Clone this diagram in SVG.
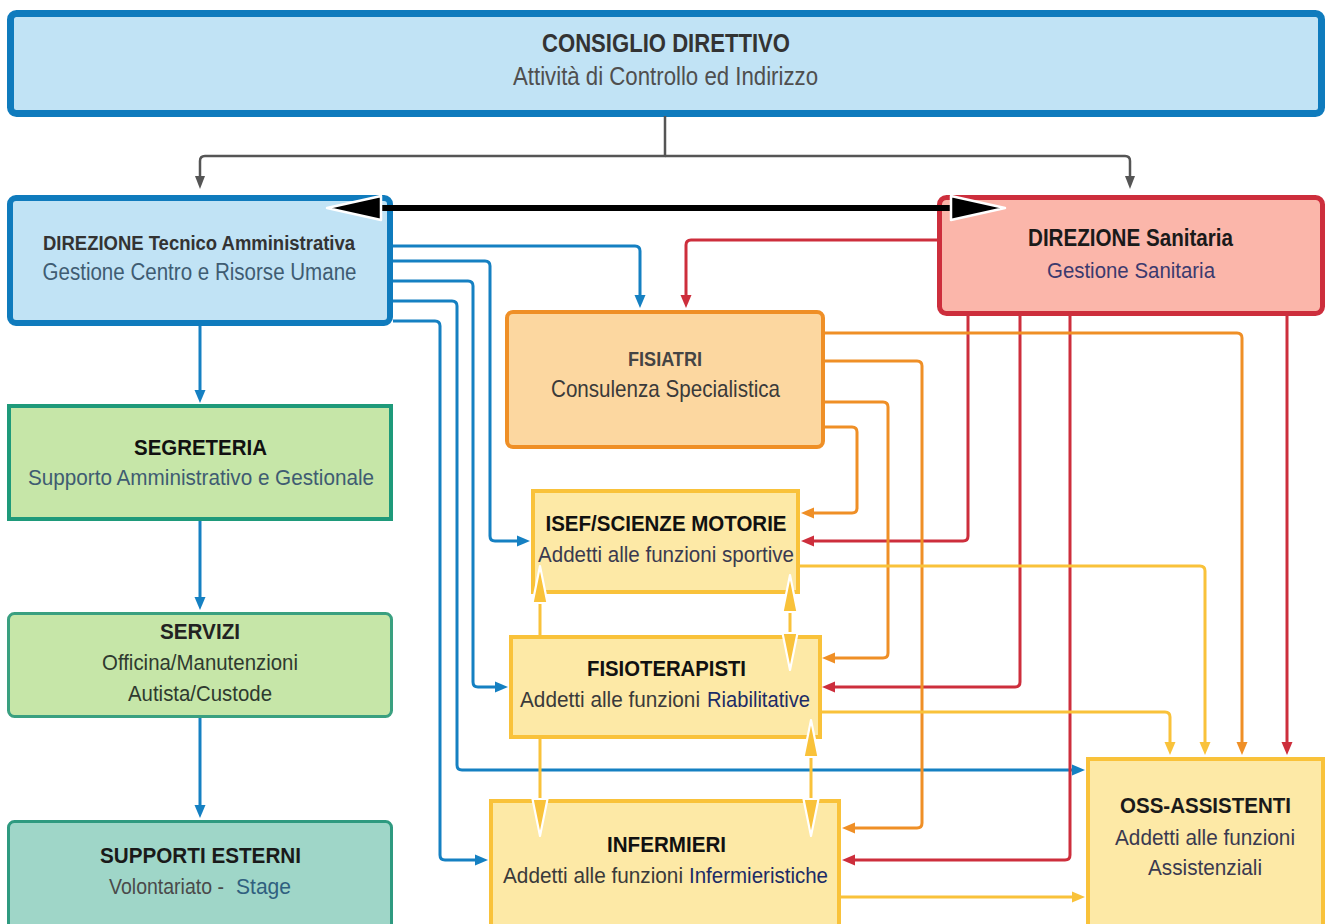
<svg xmlns="http://www.w3.org/2000/svg" xmlns:xlink="http://www.w3.org/1999/xlink" width="1332" height="924" viewBox="0 0 1332 924">
<style>
text{font-family:"Liberation Sans",Arial,sans-serif;text-anchor:middle}
text.s{text-anchor:start}
.b{font-weight:bold}
.c{fill:none;stroke-width:3;stroke-linejoin:round}
.blue{stroke:#1580c2}
.red{stroke:#cd2e3c}
.org{stroke:#ef8f26}
.yel{stroke:#f9c23a}
.gray{stroke:#555;stroke-width:2.5}
.yb{fill:#fde9a6;stroke:#f9c23a;stroke-width:4}
</style>
<defs>
<marker id="mb" markerUnits="userSpaceOnUse" markerWidth="14" markerHeight="12" viewBox="0 -6 14 12" refX="1" refY="0" orient="auto"><path d="M0,-5.5 L13,0 L0,5.5 Z" fill="#1580c2"/></marker>
<marker id="mr" markerUnits="userSpaceOnUse" markerWidth="14" markerHeight="12" viewBox="0 -6 14 12" refX="1" refY="0" orient="auto"><path d="M0,-5.5 L13,0 L0,5.5 Z" fill="#cd2e3c"/></marker>
<marker id="mo" markerUnits="userSpaceOnUse" markerWidth="14" markerHeight="12" viewBox="0 -6 14 12" refX="1" refY="0" orient="auto"><path d="M0,-5.5 L13,0 L0,5.5 Z" fill="#ef8f26"/></marker>
<marker id="my" markerUnits="userSpaceOnUse" markerWidth="14" markerHeight="12" viewBox="0 -6 14 12" refX="1" refY="0" orient="auto"><path d="M0,-5.5 L13,0 L0,5.5 Z" fill="#f9c23a"/></marker>
<marker id="mg" markerUnits="userSpaceOnUse" markerWidth="14" markerHeight="12" viewBox="0 -6 14 12" refX="1" refY="0" orient="auto"><path d="M0,-5 L13,0 L0,5 Z" fill="#555"/></marker>
<path id="yh" d="M0,0 L-7.5,37 L7.5,37 Z" fill="#f9c23a" stroke="#fff" stroke-width="2.2" stroke-linejoin="round"/>
</defs>

<g id="consiglio">
<rect x="10.5" y="13.5" width="1311" height="100" rx="6" fill="#c1e3f5" stroke="#0f7bbd" stroke-width="7"/>
<text class="b" x="666" y="52" font-size="25" fill="#333" textLength="248" lengthAdjust="spacingAndGlyphs">CONSIGLIO DIRETTIVO</text>
<text x="665.5" y="85" font-size="25" fill="#4f4f4f" textLength="305" lengthAdjust="spacingAndGlyphs">Attività di Controllo ed Indirizzo</text>
</g>

<g id="dir-tecnico">
<rect x="10" y="198" width="380" height="125" rx="6" fill="#c1e3f5" stroke="#0f7bbd" stroke-width="6"/>
<text class="b" x="199" y="250" font-size="20" fill="#333" textLength="312" lengthAdjust="spacingAndGlyphs">DIREZIONE Tecnico Amministrativa</text>
<text x="199.5" y="280" font-size="23" fill="#3f5c72" textLength="314" lengthAdjust="spacingAndGlyphs">Gestione Centro e Risorse Umane</text>
</g>

<g id="dir-sanitaria">
<rect x="939.5" y="197.5" width="383" height="116" rx="7" fill="#fbb6aa" stroke="#cd2e3c" stroke-width="5"/>
<text class="b" x="1130.5" y="246" font-size="23" fill="#1a1a1a" textLength="205" lengthAdjust="spacingAndGlyphs">DIREZIONE Sanitaria</text>
<text x="1131" y="278" font-size="22" fill="#3c3a6e" textLength="168" lengthAdjust="spacingAndGlyphs">Gestione Sanitaria</text>
</g>

<g id="fisiatri">
<rect x="507" y="312" width="316" height="135" rx="6" fill="#fcd7a0" stroke="#ef8f26" stroke-width="4"/>
<text class="b" x="665" y="366" font-size="20" fill="#444" textLength="74" lengthAdjust="spacingAndGlyphs">FISIATRI</text>
<text x="665.5" y="397" font-size="24" fill="#3a3a3a" textLength="229" lengthAdjust="spacingAndGlyphs">Consulenza Specialistica</text>
</g>

<g id="isef">
<rect class="yb" x="533" y="491" width="265" height="101"/>
<text class="b" x="666" y="531" font-size="22" fill="#111" textLength="241" lengthAdjust="spacingAndGlyphs">ISEF/SCIENZE MOTORIE</text>
<text x="666" y="562" font-size="22" fill="#3a3a50" textLength="256" lengthAdjust="spacingAndGlyphs">Addetti alle funzioni sportive</text>
</g>

<g id="fisioterapisti">
<rect class="yb" x="511" y="637" width="309" height="100"/>
<text class="b" x="666.5" y="676" font-size="22" fill="#111" textLength="159" lengthAdjust="spacingAndGlyphs">FISIOTERAPISTI</text>
<text class="s" x="520" y="707" font-size="22" fill="#3a3a3a" textLength="180" lengthAdjust="spacingAndGlyphs">Addetti alle funzioni</text>
<text class="s" x="707" y="707" font-size="22" fill="#1c2c66" textLength="103" lengthAdjust="spacingAndGlyphs">Riabilitative</text>
</g>

<g id="infermieri">
<rect class="yb" x="491" y="801" width="348" height="130"/>
<text class="b" x="666.5" y="852" font-size="22" fill="#111" textLength="119" lengthAdjust="spacingAndGlyphs">INFERMIERI</text>
<text class="s" x="503" y="883" font-size="22" fill="#3a3a3a" textLength="180" lengthAdjust="spacingAndGlyphs">Addetti alle funzioni</text>
<text class="s" x="689" y="883" font-size="22" fill="#1c2c66" textLength="139" lengthAdjust="spacingAndGlyphs">Infermieristiche</text>
</g>

<g id="oss">
<rect class="yb" x="1088" y="759" width="235" height="170"/>
<text class="b" x="1205.5" y="813" font-size="22" fill="#1a1a1a" textLength="171" lengthAdjust="spacingAndGlyphs">OSS-ASSISTENTI</text>
<text x="1205" y="845" font-size="22" fill="#3a3a50" textLength="180" lengthAdjust="spacingAndGlyphs">Addetti alle funzioni</text>
<text x="1205" y="875" font-size="22" fill="#3a3a50" textLength="114" lengthAdjust="spacingAndGlyphs">Assistenziali</text>
</g>

<g id="segreteria">
<rect x="9" y="406" width="382" height="113" fill="#c6e6a8" stroke="#1e9a7a" stroke-width="4"/>
<text class="b" x="200.5" y="455" font-size="22" fill="#111" textLength="133" lengthAdjust="spacingAndGlyphs">SEGRETERIA</text>
<text x="201" y="485" font-size="22" fill="#3f5c72" textLength="346" lengthAdjust="spacingAndGlyphs">Supporto Amministrativo e Gestionale</text>
</g>

<g id="servizi">
<rect x="8.5" y="613.5" width="383" height="103" rx="6" fill="#c6e6a8" stroke="#3aa080" stroke-width="3"/>
<text class="b" x="200" y="639" font-size="22" fill="#222" textLength="80" lengthAdjust="spacingAndGlyphs">SERVIZI</text>
<text x="200" y="670" font-size="22" fill="#2f3a2f" textLength="196" lengthAdjust="spacingAndGlyphs">Officina/Manutenzioni</text>
<text x="200" y="701" font-size="22" fill="#2f3a2f" textLength="144" lengthAdjust="spacingAndGlyphs">Autista/Custode</text>
</g>

<g id="supporti">
<rect x="8.5" y="821.5" width="383" height="110" rx="6" fill="#9fd6c8" stroke="#2f9a80" stroke-width="3"/>
<text class="b" x="200.5" y="863" font-size="22" fill="#1a1a1a" textLength="201" lengthAdjust="spacingAndGlyphs">SUPPORTI ESTERNI</text>
<text class="s" x="109" y="894" font-size="22" fill="#4a4a4a" textLength="115" lengthAdjust="spacingAndGlyphs">Volontariato -</text>
<text class="s" x="236" y="894" font-size="22" fill="#2f607f" textLength="55" lengthAdjust="spacingAndGlyphs">Stage</text>
</g>

<g id="connectors">
<path class="c gray" d="M665,116 V156 H205 Q200,156 200,161 V177" marker-end="url(#mg)"/>
<path class="c gray" d="M665,156 H1125 Q1130,156 1130,161 V177" marker-end="url(#mg)"/>

<path class="c blue" d="M200,326 V391" marker-end="url(#mb)"/>
<path class="c blue" d="M200,521 V598" marker-end="url(#mb)"/>
<path class="c blue" d="M200,718 V806" marker-end="url(#mb)"/>
<path class="c blue" d="M393,246 H635 Q640,246 640,251 V296" marker-end="url(#mb)"/>
<path class="c blue" d="M393,261 H485 Q490,261 490,266 V536 Q490,541 495,541 H518" marker-end="url(#mb)"/>
<path class="c blue" d="M393,281 H468 Q473,281 473,286 V682 Q473,687 478,687 H496" marker-end="url(#mb)"/>
<path class="c blue" d="M393,301 H452 Q457,301 457,306 V765 Q457,770 462,770 H1073" marker-end="url(#mb)"/>
<path class="c blue" d="M393,321 H435 Q440,321 440,326 V855 Q440,860 445,860 H476" marker-end="url(#mb)"/>

<path class="c red" d="M937,240 H691 Q686,240 686,245 V296" marker-end="url(#mr)"/>
<path class="c red" d="M968,316 V536 Q968,541 963,541 H813" marker-end="url(#mr)"/>
<path class="c red" d="M1020,316 V682 Q1020,687 1015,687 H834" marker-end="url(#mr)"/>
<path class="c red" d="M1070,316 V855 Q1070,860 1065,860 H854" marker-end="url(#mr)"/>
<path class="c red" d="M1287,316 V743" marker-end="url(#mr)"/>

<path class="c org" d="M825,333 H1237 Q1242,333 1242,338 V743" marker-end="url(#mo)"/>
<path class="c org" d="M825,361 H917 Q922,361 922,366 V823 Q922,828 917,828 H854" marker-end="url(#mo)"/>
<path class="c org" d="M825,402 H883 Q888,402 888,407 V653 Q888,658 883,658 H834" marker-end="url(#mo)"/>
<path class="c org" d="M825,427 H852 Q857,427 857,432 V508 Q857,513 852,513 H813" marker-end="url(#mo)"/>

<path class="c yel" d="M800,566 H1200 Q1205,566 1205,571 V743" marker-end="url(#my)"/>
<path class="c yel" d="M822,712 H1165 Q1170,712 1170,717 V743" marker-end="url(#my)"/>
<path class="c yel" d="M841,897 H1073" marker-end="url(#my)"/>

<path class="c yel" stroke-width="4" d="M540,602 V636 M540,738 V800 M790,606 V633 M811,756 V800"/>
<use xlink:href="#yh" transform="translate(540,566)"/>
<use xlink:href="#yh" transform="translate(540,836) rotate(180)"/>
<use xlink:href="#yh" transform="translate(790,575)"/>
<use xlink:href="#yh" transform="translate(790,670) rotate(180)"/>
<use xlink:href="#yh" transform="translate(811,720)"/>
<use xlink:href="#yh" transform="translate(811,836) rotate(180)"/>

<path d="M378,208 H954" stroke="#000" stroke-width="6" fill="none"/>
<polygon points="327,208 381,196 381,220" fill="#000" stroke="#fff" stroke-width="2.5" stroke-linejoin="round"/>
<polygon points="1005,208 951,196 951,220" fill="#000" stroke="#fff" stroke-width="2.5" stroke-linejoin="round"/>
</g>
</svg>
